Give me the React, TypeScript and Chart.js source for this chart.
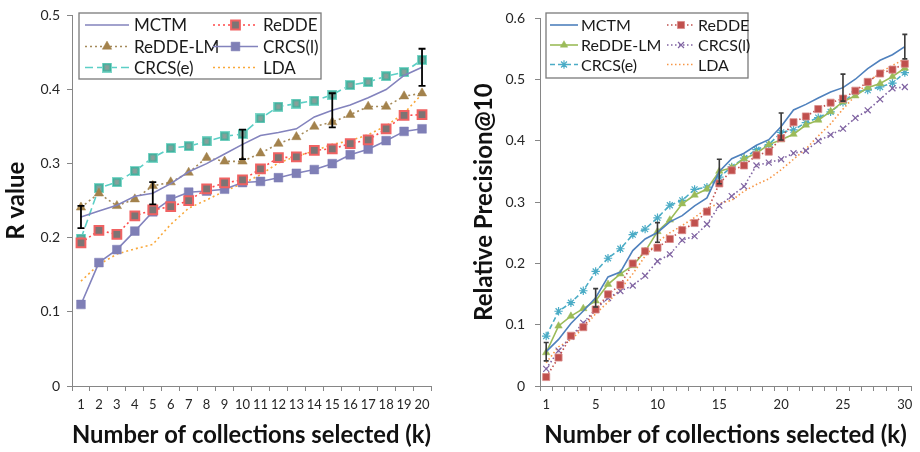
import React, { useEffect, useRef } from 'react';
import { Chart, registerables } from 'chart.js';
import { drawPoint } from 'chart.js/helpers';

Chart.register(...registerables);

// ---------- Left chart data (R value) ----------
const leftK = ['1','2','3','4','5','6','7','8','9','10','11','12','13','14','15','16','17','18','19','20'];
const leftMCTM = [0.228,0.236,0.244,0.256,0.260,0.273,0.289,0.300,0.313,0.326,0.338,0.342,0.347,0.363,0.372,0.379,0.389,0.400,0.419,0.430];
const leftReDDE = [0.193,0.210,0.2045,0.2295,0.2375,0.242,0.250,0.266,0.274,0.278,0.293,0.308,0.309,0.318,0.320,0.327,0.332,0.347,0.365,0.366];
const leftReDDELM = [0.241,0.260,0.243,0.252,0.270,0.275,0.288,0.308,0.303,0.303,0.314,0.327,0.336,0.350,0.356,0.366,0.377,0.377,0.391,0.395];
const leftCRCSl = [0.110,0.1665,0.184,0.209,0.235,0.252,0.2615,0.263,0.2655,0.2745,0.276,0.281,0.287,0.292,0.300,0.312,0.3195,0.331,0.3435,0.347];
const leftCRCSe = [0.199,0.267,0.275,0.290,0.308,0.321,0.3236,0.330,0.337,0.340,0.361,0.377,0.381,0.385,0.393,0.406,0.410,0.418,0.4235,0.440];
const leftLDA = [0.1415,0.164,0.178,0.185,0.191,0.218,0.240,0.251,0.263,0.273,0.285,0.301,0.310,0.317,0.326,0.331,0.339,0.351,0.368,0.394];
const leftErrK = [1, 5, 10, 15, 20];
const leftErr = [0.015, 0.015, 0.02, 0.023, 0.025];
const leftYTicks = [0, 0.1, 0.2, 0.3, 0.4, 0.5];

// ---------- Right chart data (Relative Precision@10) ----------
const rightK = Array.from({ length: 30 }, (_, i) => String(i + 1));
const rightShownLabels = ['1','5','10','15','20','25','30'];
const rightMCTM = [0.056,0.076,0.102,0.1225,0.144,0.178,0.186,0.221,0.240,0.2506,0.268,0.278,0.294,0.307,0.350,0.371,0.380,0.393,0.402,0.4235,0.4505,0.4597,0.470,0.480,0.487,0.5007,0.518,0.5316,0.5407,0.554];
const rightReDDE = [0.0146,0.0464,0.082,0.096,0.1248,0.1496,0.165,0.200,0.2198,0.2258,0.240,0.2544,0.266,0.2846,0.3306,0.352,0.360,0.3765,0.3825,0.4046,0.4305,0.440,0.452,0.4624,0.469,0.482,0.4964,0.510,0.5164,0.526];
const rightReDDELM = [0.0545,0.098,0.114,0.1264,0.139,0.166,0.183,0.1966,0.2198,0.2522,0.271,0.2975,0.3117,0.3214,0.3506,0.356,0.371,0.380,0.394,0.402,0.411,0.426,0.434,0.448,0.464,0.4737,0.487,0.4937,0.505,0.519];
const rightCRCSl = [0.028,0.0577,0.0804,0.103,0.1253,0.1436,0.155,0.164,0.180,0.2036,0.215,0.238,0.2447,0.264,0.2944,0.310,0.326,0.360,0.3646,0.370,0.380,0.384,0.400,0.410,0.420,0.4375,0.450,0.468,0.486,0.488];
const rightCRCSe = [0.0815,0.122,0.136,0.1555,0.187,0.2085,0.224,0.247,0.256,0.2745,0.295,0.303,0.321,0.3245,0.341,0.3576,0.372,0.3857,0.394,0.414,0.418,0.430,0.438,0.4475,0.463,0.480,0.483,0.488,0.4945,0.5115];
const rightLDA = [0.038,0.064,0.076,0.094,0.118,0.137,0.158,0.183,0.212,0.235,0.250,0.262,0.275,0.290,0.298,0.303,0.318,0.329,0.338,0.353,0.370,0.387,0.408,0.428,0.452,0.474,0.495,0.512,0.523,0.534];
const rightErrK = [1, 5, 10, 15, 20, 25, 30];
const rightErr = [0.015, 0.015, 0.016, 0.02, 0.022, 0.022, 0.02];
const rightYTicks = [0, 0.1, 0.2, 0.3, 0.4, 0.5, 0.6];

const seriesNames = ['MCTM', 'ReDDE', 'ReDDE-LM', 'CRCS(l)', 'CRCS(e)', 'LDA'];
const xTitle = 'Number of collections selected (k)';
const leftYTitle = 'R value';
const rightYTitle = 'Relative Precision@10';

const FONT = 'Lato, "Open Sans", sans-serif';

function makeTealStarSquare(): HTMLCanvasElement {
  const c = document.createElement('canvas');
  c.width = 10;
  c.height = 10;
  const g = c.getContext('2d')!;
  g.fillStyle = '#7fd6c8';
  g.fillRect(0, 0, 10, 10);
  g.fillStyle = '#3cb39f';
  g.fillRect(1, 1, 8, 8);
  g.strokeStyle = '#8b9f9a';
  g.lineWidth = 1.1;
  g.beginPath();
  g.moveTo(2.5, 2.5); g.lineTo(7.5, 7.5);
  g.moveTo(7.5, 2.5); g.lineTo(2.5, 7.5);
  g.moveTo(5, 1.8); g.lineTo(5, 8.2);
  g.moveTo(1.8, 5); g.lineTo(8.2, 5);
  g.stroke();
  return c;
}

type LegendCfg = {
  box: [number, number, number, number];
  cols: [number, number, number][]; // lineStart, lineEnd, textX
  rows: number[];
  fontSize: number;
};

function legendPlugin(cfg: LegendCfg) {
  return {
    id: 'boxLegend',
    afterDraw(chart: any) {
      const ctx = chart.ctx as CanvasRenderingContext2D;
      ctx.save();
      const [bx, by, bw, bh] = cfg.box;
      ctx.fillStyle = '#ffffff';
      ctx.fillRect(bx, by, bw, bh);
      ctx.strokeStyle = '#7a7a7a';
      ctx.lineWidth = 1.3;
      ctx.setLineDash([]);
      ctx.strokeRect(bx, by, bw, bh);
      chart.data.datasets.forEach((ds: any, i: number) => {
        const row = Math.floor(i / 2);
        const col = i % 2;
        const [x0, x1, tx] = cfg.cols[col];
        const y = cfg.rows[row];
        ctx.save();
        ctx.strokeStyle = ds.borderColor;
        ctx.lineWidth = ds.borderWidth;
        ctx.setLineDash(ds.borderDash || []);
        ctx.lineCap = 'butt';
        ctx.beginPath();
        ctx.moveTo(x0, y);
        ctx.lineTo(x1, y);
        ctx.stroke();
        ctx.setLineDash([]);
        if (ds.pointRadius > 0) {
          ctx.fillStyle = ds.pointBackgroundColor;
          ctx.strokeStyle = ds.pointBorderColor;
          ctx.lineWidth = ds.pointBorderWidth;
          drawPoint(ctx, { pointStyle: ds.pointStyle, radius: ds.pointRadius, borderWidth: ds.pointBorderWidth, rotation: 0 } as any, (x0 + x1) / 2, y);
        }
        ctx.restore();
        ctx.fillStyle = '#1a1a1a';
        ctx.font = `${cfg.fontSize}px ${FONT}`;
        ctx.textBaseline = 'middle';
        ctx.textAlign = 'left';
        ctx.fillText(ds.label, tx, y + 1);
      });
      ctx.restore();
    },
  };
}

function errorBarPlugin(ks: number[], errs: number[], center: number[], color: string, width: number, cap: number) {
  return {
    id: 'errBars',
    afterDatasetsDraw(chart: any) {
      const ctx = chart.ctx as CanvasRenderingContext2D;
      const xs = chart.scales.x;
      const ys = chart.scales.y;
      ctx.save();
      ctx.strokeStyle = color;
      ctx.lineWidth = width;
      ctx.setLineDash([]);
      ks.forEach((k, j) => {
        const i = k - 1;
        const v = center[i];
        const x = xs.getPixelForValue(i);
        const yt = ys.getPixelForValue(v + errs[j]);
        const yb = ys.getPixelForValue(v - errs[j]);
        ctx.beginPath();
        ctx.moveTo(x, yt); ctx.lineTo(x, yb);
        ctx.moveTo(x - cap / 2, yt); ctx.lineTo(x + cap / 2, yt);
        ctx.moveTo(x - cap / 2, yb); ctx.lineTo(x + cap / 2, yb);
        ctx.stroke();
      });
      ctx.restore();
    },
  };
}

function buildScales(opts: {
  yMax: number; yTicks: number[]; yWidth: number; xHeight: number; yTitle: string;
  xCallback?: (label: string) => string; tickFont: number; titleFont: number; yPad: number; yTitlePad: number;
}) {
  const axisColor = '#868686';
  return {
    x: {
      type: 'category' as const,
      offset: true,
      grid: { display: true, drawOnChartArea: false, drawTicks: true, tickLength: 5, color: axisColor, offset: true },
      border: { display: true, color: axisColor, width: 1 },
      ticks: {
        autoSkip: false,
        maxRotation: 0,
        minRotation: 0,
        padding: 6,
        color: '#262626',
        font: { family: FONT, size: opts.tickFont },
        callback: function (this: any, value: any) {
          const lbl = this.getLabelForValue(value);
          return opts.xCallback ? opts.xCallback(lbl) : lbl;
        },
      },
      title: {
        display: true,
        text: xTitle,
        color: '#111',
        font: { family: FONT, size: opts.titleFont, weight: 'bold' as const },
        padding: { top: 0, bottom: 2 },
      },
      afterFit: (s: any) => { s.height = opts.xHeight; },
    },
    y: {
      type: 'linear' as const,
      min: 0,
      max: opts.yMax,
      grid: { display: true, drawOnChartArea: false, drawTicks: true, tickLength: 5, color: axisColor },
      border: { display: true, color: axisColor, width: 1 },
      afterBuildTicks: (s: any) => { s.ticks = opts.yTicks.map((v) => ({ value: v })); },
      ticks: {
        padding: opts.yPad,
        color: '#262626',
        font: { family: FONT, size: opts.tickFont + 1 },
        callback: (v: any) => String(Math.round(Number(v) * 10) / 10),
      },
      title: {
        display: true,
        text: opts.yTitle,
        color: '#111',
        font: { family: FONT, size: opts.titleFont, weight: 'bold' as const },
        padding: { top: opts.yTitlePad, bottom: 0 },
      },
      afterFit: (s: any) => { s.width = opts.yWidth; },
    },
  };
}

function LeftChart() {
  const ref = useRef<HTMLCanvasElement>(null);
  useEffect(() => {
    const star = makeTealStarSquare();
    const chart = new Chart(ref.current!, {
      type: 'line',
      data: {
        labels: leftK,
        datasets: [
          { label: seriesNames[0], data: leftMCTM, borderColor: '#8383bd', borderWidth: 1.6, pointRadius: 0, pointStyle: 'circle', pointBackgroundColor: '#8383bd', pointBorderColor: '#8383bd', pointBorderWidth: 0 },
          { label: seriesNames[1], data: leftReDDE, borderColor: '#ff4a4a', borderWidth: 1.6, borderDash: [2, 3], pointRadius: 6.2, pointStyle: 'rect', pointBackgroundColor: '#7c7474', pointBorderColor: '#f06262', pointBorderWidth: 2 },
          { label: seriesNames[2], data: leftReDDELM, borderColor: '#a58a5a', borderWidth: 1.6, borderDash: [2, 3], pointRadius: 5.4, pointStyle: 'triangle', pointBackgroundColor: '#a3824c', pointBorderColor: '#a3824c', pointBorderWidth: 0.5 },
          { label: seriesNames[3], data: leftCRCSl, borderColor: '#8383bd', borderWidth: 1.6, pointRadius: 6.2, pointStyle: 'rect', pointBackgroundColor: '#7f7fb6', pointBorderColor: '#7f7fb6', pointBorderWidth: 0.5 },
          { label: seriesNames[4], data: leftCRCSe, borderColor: '#5ccfc6', borderWidth: 1.6, borderDash: [8, 4], pointRadius: 5, pointStyle: star, pointBackgroundColor: '#3cb39f', pointBorderColor: '#3cb39f', pointBorderWidth: 0 },
          { label: seriesNames[5], data: leftLDA, borderColor: '#f9a83a', borderWidth: 1.6, borderDash: [2, 3], pointRadius: 0, pointStyle: 'circle', pointBackgroundColor: '#f9a83a', pointBorderColor: '#f9a83a', pointBorderWidth: 0 },
        ],
      },
      options: {
        responsive: false,
        maintainAspectRatio: false,
        animation: false,
        events: [],
        layout: { padding: { top: 12, right: 29, left: 0, bottom: 0 } },
        elements: { line: { tension: 0 } },
        plugins: { legend: { display: false }, tooltip: { enabled: false }, title: { display: false } },
        scales: buildScales({ yMax: 0.5, yTicks: leftYTicks, yWidth: 72, xHeight: 66, yTitle: leftYTitle, tickFont: 13, titleFont: 24, yPad: 7, yTitlePad: 2 }) as any,
      },
      plugins: [
        errorBarPlugin(leftErrK, leftErr, leftMCTM, '#000000', 1.8, 7),
        legendPlugin({ box: [79, 13, 242, 66], cols: [[85, 129, 134], [213, 258, 263]], rows: [25, 46.5, 67.5], fontSize: 17 }),
      ],
    });
    return () => chart.destroy();
  }, []);
  return <canvas ref={ref} width={460} height={452} style={{ display: 'block', position: 'absolute', left: 0, top: 0 }} />;
}

function RightChart() {
  const ref = useRef<HTMLCanvasElement>(null);
  useEffect(() => {
    const chart = new Chart(ref.current!, {
      type: 'line',
      data: {
        labels: rightK,
        datasets: [
          { label: seriesNames[0], data: rightMCTM, borderColor: '#4f81bd', borderWidth: 1.6, pointRadius: 0, pointStyle: 'circle', pointBackgroundColor: '#4f81bd', pointBorderColor: '#4f81bd', pointBorderWidth: 0 },
          { label: seriesNames[1], data: rightReDDE, borderColor: '#c0504d', borderWidth: 1.6, borderDash: [1.5, 2.5], pointRadius: 5, pointStyle: 'rect', pointBackgroundColor: '#c0504d', pointBorderColor: '#d98c8a', pointBorderWidth: 0.8 },
          { label: seriesNames[2], data: rightReDDELM, borderColor: '#9bbb59', borderWidth: 1.6, pointRadius: 4.3, pointStyle: 'triangle', pointBackgroundColor: '#9bbb59', pointBorderColor: '#9bbb59', pointBorderWidth: 0.5 },
          { label: seriesNames[3], data: rightCRCSl, borderColor: '#8064a2', borderWidth: 1.6, borderDash: [1.5, 2.5], pointRadius: 4.2, pointStyle: 'crossRot', pointBackgroundColor: '#8064a2', pointBorderColor: '#8064a2', pointBorderWidth: 1.2 },
          { label: seriesNames[4], data: rightCRCSe, borderColor: '#4bacc6', borderWidth: 1.6, borderDash: [5, 3], pointRadius: 4.2, pointStyle: 'star', pointBackgroundColor: '#4bacc6', pointBorderColor: '#4bacc6', pointBorderWidth: 1.2 },
          { label: seriesNames[5], data: rightLDA, borderColor: '#f79646', borderWidth: 1.6, borderDash: [1.5, 2.5], pointRadius: 0, pointStyle: 'circle', pointBackgroundColor: '#f79646', pointBorderColor: '#f79646', pointBorderWidth: 0 },
        ],
      },
      options: {
        responsive: false,
        maintainAspectRatio: false,
        animation: false,
        events: [],
        layout: { padding: { top: 16, right: 9, left: 0, bottom: 0 } },
        elements: { line: { tension: 0 } },
        plugins: { legend: { display: false }, tooltip: { enabled: false }, title: { display: false } },
        scales: buildScales({
          yMax: 0.6, yTicks: rightYTicks, yWidth: 80, xHeight: 66, yTitle: rightYTitle, tickFont: 13, titleFont: 24, yPad: 10, yTitlePad: 10,
          xCallback: (l) => (rightShownLabels.includes(l) ? l : ''),
        }) as any,
      },
      plugins: [
        errorBarPlugin(rightErrK, rightErr, rightMCTM, '#3a3a3a', 1.6, 5),
        legendPlugin({ box: [86, 13, 202, 65], cols: [[90, 118, 121], [207, 235, 238]], rows: [25, 45, 64.5], fontSize: 16 }),
      ],
    });
    return () => chart.destroy();
  }, []);
  return <canvas ref={ref} width={460} height={452} style={{ display: 'block', position: 'absolute', left: 460, top: 0 }} />;
}

export default function App() {
  return (
    <div style={{ position: 'absolute', left: 0, top: 0, width: 920, height: 452, background: '#ffffff', overflow: 'hidden' }}>
      <LeftChart />
      <RightChart />
    </div>
  );
}
